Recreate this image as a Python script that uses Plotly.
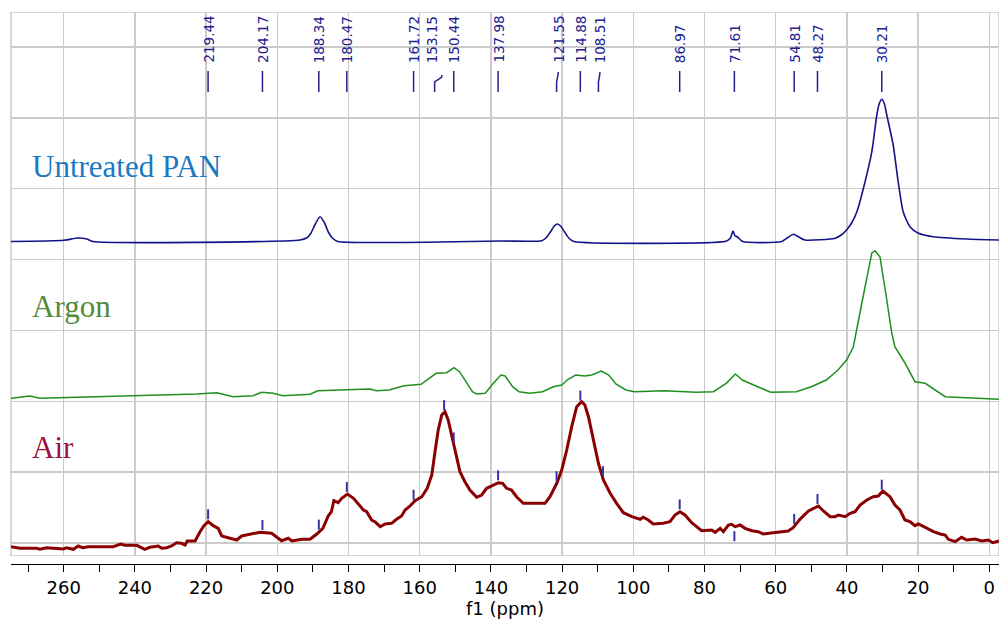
import numpy as np
import plotly.graph_objects as go

# ---------------- data ----------------
# chemical shift axis (ppm) and intensities (arbitrary units, relative to each spectrum's baseline)
untreated_ppm = [274.8, 259.9, 256.1, 253.5, 251.8, 193.6, 191.8, 190.6, 189.4, 188.0, 186.8, 185.6,
                 184.4, 183.0, 137.4, 125.7, 124.4, 123.2, 122.2, 121.3, 120.3, 119.2, 118.0, 116.7,
                 74.0, 72.8, 72.0, 71.4, 70.8, 69.3, 58.3, 56.6, 55.0, 53.5, 51.8, 43.3, 41.6, 40.1,
                 38.6, 37.2, 34.9, 33.0, 31.6, 30.9, 30.2, 29.5, 28.8, 27.0, 25.6, 24.2, 22.3, 19.9,
                 15.7, 6.3, -2.7]
untreated_int = [0, 1.2, 3.5, 2.5, 0, 1.5, 3.5, 8, 17, 24.8, 19, 9,
                 3, 0, 0.5, 0.8, 4, 10, 15.5, 17.5, 15, 9, 3, 0,
                 0.2, 3, 10.5, 5.5, 4.8, 0, 0, 4, 7.2, 4.5, 1.5, 3.2, 6.5, 11.5,
                 19, 29.8, 59.8, 89.8, 126.5, 138, 142.2, 138, 126.5, 96.5, 59.8, 29.8, 14.8, 8.2,
                 4.8, 2.5, 1.5]

argon_ppm = [274.8, 269.5, 266.7, 222.6, 217.0, 212.4, 206.8, 204.4, 201.2, 198.4, 190.8, 188.6,
             182.4, 174.0, 172.2, 168.6, 164.4, 159.6, 155.4, 152.4, 150.4, 148.8, 147.0, 145.2,
             144.0, 141.6, 139.3, 137.2, 136.0, 133.9, 132.1, 129.1, 125.5, 122.5, 120.1, 118.3,
             116.2, 113.7, 111.7, 109.0, 106.9, 104.9, 102.1, 99.7, 91.3, 82.3, 77.5, 73.9, 71.3,
             69.4, 66.2, 61.4, 54.2, 50.0, 45.8, 42.5, 40.1, 38.2, 35.8, 34.4, 33.0, 32.1, 30.7,
             28.8, 27.4, 26.5, 23.7, 20.9, 18.0, 12.4, -2.7]
argon_int = [1.7, 4, 1.7, 6, 7.3, 3.3, 4.3, 7.7, 6.7, 4.3, 5.7, 9.3,
             10, 11, 9.3, 10, 14.3, 15.7, 26.7, 27.3, 32.3, 28.3, 18.3, 8.3,
             6, 6.7, 16.7, 25, 24, 13.3, 8.3, 6.7, 8.3, 13.3, 15, 20.7,
             25, 24, 25, 29, 25, 16, 10, 8.3, 9.3, 7.7, 8.3, 16.7, 26,
             20, 15, 7.7, 8.3, 13.3, 20, 30, 40, 53, 97, 123, 147, 149.3, 143,
             100, 67, 53, 37, 18.3, 16.7, 3.3, 0.7]

air_ppm = [274.8, 272.3, 267.6, 266.7, 264.8, 261.5, 260.1, 259.2, 257.3, 255.9, 254.7, 253.1,
           246.1, 244.0, 242.8, 239.5, 237.2, 235.8, 233.4, 232.5, 231.1, 229.7, 228.3, 226.9,
           225.9, 225.3, 223.1, 221.7, 220.6, 219.4, 218.0, 216.6, 215.6, 213.8, 211.4, 210.0,
           206.7, 204.9, 201.6, 200.2, 198.8, 196.9, 195.9, 193.1, 190.8, 188.9, 187.2, 185.7,
           184.8, 184.1, 182.9, 181.9, 180.3, 178.6, 177.2, 175.8, 174.9, 173.5, 172.6, 171.1,
           169.7, 167.9, 166.5, 165.1, 164.1, 162.7, 161.3, 159.4, 157.9, 156.6, 155.7, 154.8,
           153.8, 152.9, 152.0, 151.0, 150.1, 148.7, 147.3, 145.9, 144.0, 142.6, 141.2, 139.3,
           137.9, 136.7, 135.6, 134.2, 132.8, 130.9, 124.8, 123.4, 121.5, 120.1, 118.7, 117.3,
           115.9, 114.5, 113.6, 112.6, 111.2, 109.8, 108.4, 106.5, 104.7, 102.8, 100.4, 98.1,
           97.2, 95.8, 94.4, 91.6, 89.7, 88.3, 86.9, 85.5, 83.6, 80.8, 78.0, 77.0, 75.6, 74.7,
           73.3, 72.4, 71.4, 70.0, 68.6, 66.7, 64.9, 63.5, 60.7, 56.5, 55.1, 53.2, 50.8, 49.4,
           48.0, 46.6, 44.7, 43.3, 42.4, 40.5, 39.1, 37.7, 36.3, 34.4, 32.6, 31.2, 29.9, 27.9,
           26.5, 25.1, 23.7, 22.3, 20.9, 19.9, 17.6, 15.7, 13.8, 12.4, 11.5, 9.6, 7.8, 6.3, 4.0,
           2.1, 0.3, -1.0, -2.7]
air_int = [0.3, -1.3, -1.3, -2.3, -0.7, -1.3, -2, -0.7, -2.3, 1, -0.7, 0.3,
           0.3, 3, 1.7, 1.7, -2.3, -0.3, 1, -1.3, -0.7, 1, 4.3, 3.7,
           2, 6, 6, 15.3, 21.3, 25.3, 21.3, 18.7, 11, 9.3, 7, 11,
           13, 14.7, 13.7, 10.3, 6.3, 8.7, 6, 7.7, 7.7, 13, 18.7, 31,
           35.3, 46.3, 44.3, 48.7, 53, 48.7, 43, 37, 35.3, 27, 25.3, 20.3,
           23, 23.7, 27.7, 31, 37, 41, 46.3, 50.3, 58.7, 72, 95.3, 117,
           132, 135.3, 127, 110.3, 97, 75.3, 65.3, 57, 49.7, 52, 58.7, 62,
           64.3, 63.7, 58.7, 57, 50.3, 43.7, 43.7, 50.3, 63.7, 77, 97, 120.3,
           140.3, 145.3, 142, 130.3, 107, 83.7, 67, 53.7, 43.7, 34.3, 30.3, 27.7,
           29.7, 27, 23, 23.7, 25.3, 32, 35.3, 32, 24.3, 16.3, 17, 14.7, 18.7, 15.3,
           22, 22.7, 20.3, 22, 18.7, 16.3, 15.3, 13, 14.3, 16, 19.3, 27.7, 36, 38.7,
           41, 36, 30.3, 30.3, 32, 30.3, 33.7, 35.3, 42, 47, 50.3, 51, 56, 50.3,
           42, 37, 27, 25.3, 21.3, 23, 18.7, 15.3, 13, 12, 7.7, 5.3, 9.7, 7, 8,
           6, 7, 4.3, 6]

# picked peaks (labels at the top) and which side of the Air trace their marker sits
peak_ppm = [219.44, 204.17, 188.34, 180.47, 161.72, 153.15, 150.44, 137.98,
            121.55, 114.88, 108.51, 86.97, 71.61, 54.81, 48.27, 30.21]
peak_marker_side = [1, 1, 1, 1, 1, 1, 1, 1, 1, 1, 1, 1, -1, 1, 1, 1]

spectrum_names = ["Untreated PAN", "Argon", "Air"]

# ---------------- styling / layout ----------------
W, H = 999, 622
M_L, M_R, M_T, M_B = 11, 0, 12, 58
X_RANGE = [274.8, -2.72]
Y_TOP = 544.0                      # y units == pixels above the plot floor
offsets = {"Untreated PAN": 314.5, "Argon": 156.0, "Air": 9.0}
line_col = {"Untreated PAN": "#14148a", "Argon": "#1f8f1f", "Air": "#8b0000"}
line_w = {"Untreated PAN": 1.6, "Argon": 1.5, "Air": 3.0}
name_col = {"Untreated PAN": "#1c78c0", "Argon": "#538a3a", "Air": "#9a1040"}
name_y = {"Untreated PAN": 389.8, "Argon": 249.5, "Air": 108.2}
GRID = "#cbcbcb"
LABEL_COL = "#22228f"
MARK_COL = "#3535a5"

# label nudges: (label x, connector top x, connector bottom x)
nudge = {153.15: (156.6, 153.8, 155.8),
         121.55: (121.1, 121.1, 121.55),
         108.51: (109.4, 109.4, 109.8)}

fig = go.Figure()

series = {
    "Untreated PAN": (untreated_ppm, untreated_int),
    "Argon": (argon_ppm, argon_int),
    "Air": (air_ppm, air_int),
}
for nm in spectrum_names:
    xs, ys = series[nm]
    ys = np.array(ys) + offsets[nm]
    fig.add_trace(go.Scatter(
        x=xs, y=ys, mode="lines",
        line=dict(color=line_col[nm], width=line_w[nm],
                  shape="spline" if nm == "Untreated PAN" else "linear",
                  smoothing=0.6 if nm == "Untreated PAN" else None),
        showlegend=False, hoverinfo="skip", xaxis="x", yaxis="y"))

# peak markers on the Air trace
air_x = np.array(air_ppm)[::-1]
air_y = np.array(air_int)[::-1] + offsets["Air"]
for p, side in zip(peak_ppm, peak_marker_side):
    yc = float(np.interp(p, air_x, air_y))
    if side > 0:
        y0, y1 = yc + 2.5, yc + 12.5
    else:
        y0, y1 = yc - 5, yc - 15
    fig.add_shape(type="line", xref="x", yref="y", x0=p, x1=p, y0=y0, y1=y1,
                  line=dict(color=MARK_COL, width=2))

# top labels with connectors
for p in peak_ppm:
    lx, tx, bx = nudge.get(p, (p, p, p))
    fig.add_annotation(x=lx, y=492, xref="x", yref="y", text=f"{p:.2f}",
                       textangle=-90, showarrow=False, xanchor="center", yanchor="bottom",
                       font=dict(family="DejaVu Sans", size=13.5, color=LABEL_COL),
                       borderpad=0)
    if p in nudge:
        top = 481 if p == 153.15 else 484
        path = f"M {tx},{top} L {tx},{top - 2} L {bx},{474} L {bx},464"
        fig.add_shape(type="path", xref="x", yref="y", path=path,
                      line=dict(color=LABEL_COL, width=1.5))
    else:
        fig.add_shape(type="line", xref="x", yref="y", x0=p, x1=p, y0=485, y1=464,
                      line=dict(color=LABEL_COL, width=1.5))

# spectrum names
for nm in spectrum_names:
    fig.add_annotation(x=(30 - M_L) / (W - M_L - M_R), y=name_y[nm], xref="paper", yref="y",
                       text=nm, showarrow=False, xanchor="left", yanchor="middle",
                       font=dict(family="Liberation Serif", size=31, color=name_col[nm]))

# plot frame
fig.add_shape(type="rect", xref="paper", yref="y", x0=0, x1=1, y0=0, y1=Y_TOP,
              line=dict(color=GRID, width=1.5), layer="below")

# dummy trace so the detached tick axis is drawn
fig.add_trace(go.Scatter(x=[100], y=[-1000], mode="markers", marker=dict(opacity=0),
                         xaxis="x2", yaxis="y", showlegend=False, hoverinfo="skip"))

plot_h = H - M_T - M_B
fig.update_layout(
    width=W, height=H,
    margin=dict(l=M_L, r=M_R, t=M_T, b=M_B, pad=0),
    paper_bgcolor="white", plot_bgcolor="white",
    showlegend=False,
    xaxis=dict(range=X_RANGE, tick0=0, dtick=20, showgrid=True, gridcolor=GRID, gridwidth=1.5,
               showticklabels=False, ticks="", zeroline=False, showline=False, fixedrange=True),
    xaxis2=dict(range=X_RANGE, overlaying="x", anchor="free", position=0, side="bottom",
                tick0=0, dtick=20, showgrid=False, zeroline=False,
                showline=True, linecolor="black", linewidth=1.2,
                ticks="outside", ticklen=7, tickwidth=1, tickcolor="black",
                minor=dict(dtick=10, ticks="outside", ticklen=7, tickwidth=1, tickcolor="black",
                           showgrid=False),
                tickfont=dict(family="DejaVu Sans", size=18, color="black"),
                title=dict(text="f1 (ppm)", font=dict(family="DejaVu Sans", size=18, color="black"),
                           standoff=1),
                fixedrange=True),
    yaxis=dict(domain=[8 / plot_h, 1], range=[0, Y_TOP], tick0=13, dtick=70.86,
               showgrid=True, gridcolor=GRID, gridwidth=1.5, showticklabels=False,
               ticks="", zeroline=False, showline=False, fixedrange=True),
)

# the page body has a default 8px margin; remove it so the figure sits at the window origin
fig.write_html("out.html",
               config={"displayModeBar": False, "staticPlot": True},
               post_script="document.body.style.margin='0px';document.body.style.overflow='hidden';")
